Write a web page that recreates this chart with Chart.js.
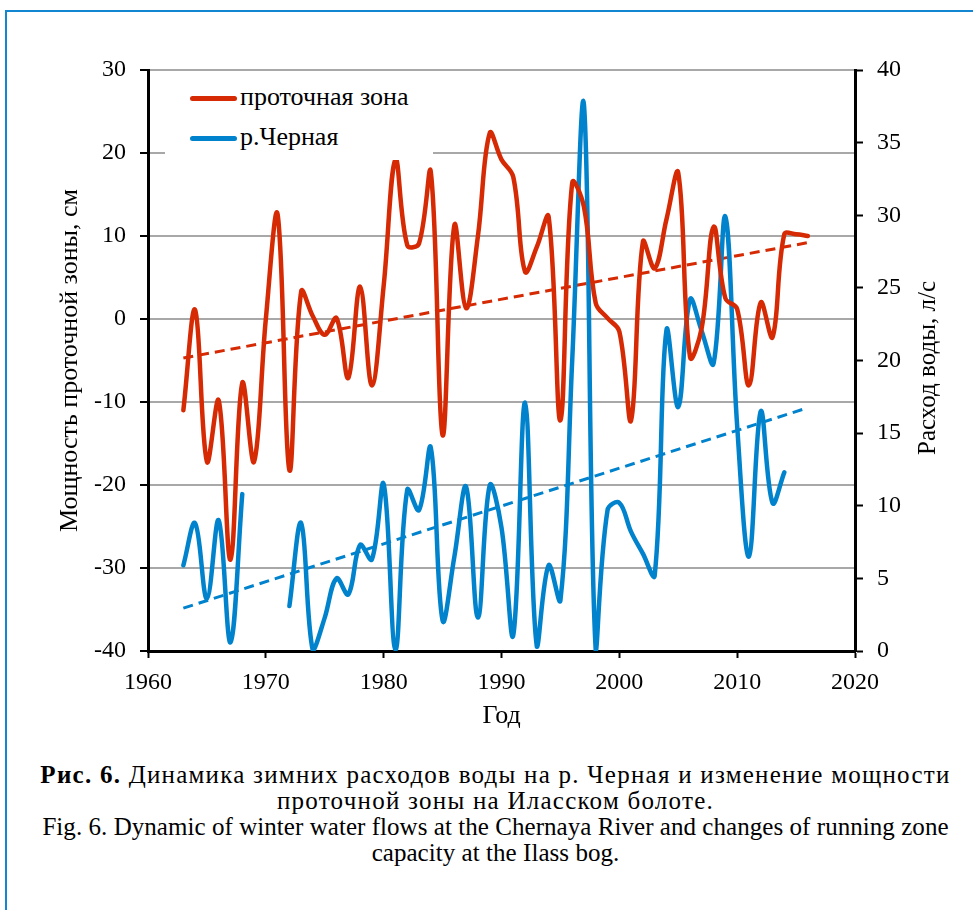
<!DOCTYPE html>
<html lang="ru">
<head>
<meta charset="utf-8">
<title>Рис. 6</title>
<script src="https://cdn.jsdelivr.net/npm/chart.js@4.4.1/dist/chart.umd.min.js"></script>
<style>
  html, body { margin: 0; padding: 0; background: #fff; }
  body { width: 973px; height: 910px; position: relative; overflow: hidden; font-family: "Liberation Serif", serif; }
  .frame { position: absolute; left: 5px; top: 10px; width: 1200px; height: 1200px; border-left: 2px solid #1286d0; border-top: 2px solid #1286d0; }
  #chart { position: absolute; left: 0; top: 0; }
  .legend { position: absolute; left: 165px; top: 78px; width: 268px; height: 82px; background: #fff; }
  .legend .item { position: absolute; left: 25px; height: 28px; font-size: 26px; line-height: 28px; white-space: nowrap; }
  .legend .swatch { position: absolute; left: 0; top: 13px; width: 47px; height: 4.5px; border-radius: 3px; }
  .legend .label { position: absolute; left: 50px; top: 0; }
  .ytitle-right { position: absolute; left: 927px; top: 368px; transform: translate(-50%, -50%) rotate(-90deg); font-size: 25px; white-space: nowrap; }
  .caption { position: absolute; left: 9px; top: 762px; width: 973px; text-align: center; font-size: 25px; line-height: 26px; color: #000; white-space: nowrap; }
  .caption .ru { letter-spacing: 1.25px; }
  .caption .en { letter-spacing: 0.05px; }
</style>
</head>
<body>
<div class="frame"></div>
<canvas id="chart" width="973" height="740"></canvas>
<div class="legend">
  <div class="item" style="top:5px"><span class="swatch" style="background:#d52a04"></span><span class="label">проточная зона</span></div>
  <div class="item" style="top:45px"><span class="swatch" style="background:#0083cc"></span><span class="label">р.Черная</span></div>
</div>
<div class="ytitle-right">Расход воды, л/с</div>
<div class="caption">
  <span class="ru"><b>Рис. 6.</b> Динамика зимних расходов воды на р. Черная и изменение мощности</span><br>
  <span class="ru">проточной зоны на Иласском болоте.</span><br>
  <span class="en">Fig. 6. Dynamic of winter water flows at the Chernaya River and changes of running zone</span><br>
  <span class="en">capacity at the Ilass bog.</span>
</div>
<script>
// ============ DATA ============
const years = [1963,1964,1965,1966,1967,1968,1969,1970,1971,1972,1973,1974,1975,1976,1977,1978,1979,1980,
  1981,1982,1983,1984,1985,1986,1987,1988,1989,1990,1991,1992,1993,1994,1995,1996,1997,1998,1999,2000,
  2001,2002,2003,2004,2005,2006,2007,2008,2009,2010,2011,2012,2013,2014,2015,2016];

// мощность проточной зоны, см (левая ось)
const zoneThickness = [-11,1.1,-17.2,-9.8,-29,-7.7,-17.2,0,12.6,-18.2,3.3,0.3,-1.9,0.1,-7.1,3.9,-8,4,
  19.2,8.9,9.1,17.7,-14,11.3,1.3,10,22.4,19.2,17.1,5.7,8.7,12.3,-12.2,16.4,13.5,1.9,0.1,-1.5,
  -12.2,9.3,6.1,12,17.6,-4.6,-1,11.1,2.5,1.2,-8,2,-2.2,10.2,10.2,10];

// расход воды р.Черная, л/с (правая ось); 1969-1971 нет данных
const riverFlow = [5.9,8.8,3.6,9.0,0.6,10.8,null,null,null,3.1,8.8,0,2.3,5.0,3.9,7.3,6.3,11.5,
  0.1,11.1,9.7,14.0,2.1,6.5,11.3,2.3,11.4,8.5,1.1,17.1,0.3,5.9,3.5,20,37.6,0,9.7,10.2,
  8.2,6.7,5.2,22.1,16.8,24.2,22,19.8,29.9,15.5,6.5,16.5,10.2,12.3,null,null];

// линейные тренды (концы линий)
const trendYears = [1963, 2016];
const zoneTrend = [-4.7, 9.2];
const flowTrend = [2.95, 16.75];

const xTicks = [1960,1970,1980,1990,2000,2010,2020];
const leftTicks = [-40,-30,-20,-10,0,10,20,30];
const rightTicks = [0,5,10,15,20,25,30,35,40];

// ============ CHART ============
const RED = '#d52a04', BLUE = '#0083cc';
const pts = (xs, ys) => xs.map((x, i) => ({ x, y: ys[i] }));
const tickFont = { family: 'Liberation Serif', size: 24 };
const titleFont = { family: 'Liberation Serif', size: 26 };

new Chart(document.getElementById('chart'), {
  type: 'line',
  data: {
    datasets: [
      { label: 'проточная зона', data: pts(years, zoneThickness), yAxisID: 'y',
        borderColor: RED, borderWidth: 4.5, tension: 0.38, pointRadius: 0,
        borderCapStyle: 'round', borderJoinStyle: 'round' },
      { label: 'р.Черная', data: pts(years, riverFlow), yAxisID: 'y1', spanGaps: false,
        borderColor: BLUE, borderWidth: 4.5, tension: 0.38, pointRadius: 0,
        borderCapStyle: 'round', borderJoinStyle: 'round' },
      { label: 'trend1', data: pts(trendYears, zoneTrend), yAxisID: 'y',
        borderColor: RED, borderWidth: 3, borderDash: [10, 6], pointRadius: 0 },
      { label: 'trend2', data: pts(trendYears, flowTrend), yAxisID: 'y1',
        borderColor: BLUE, borderWidth: 3, borderDash: [10, 6], pointRadius: 0 },
    ],
  },
  options: {
    responsive: false, animation: false, devicePixelRatio: 1,
    layout: { padding: { top: 70, left: 0, right: 0, bottom: 0 } },
    plugins: { legend: { display: false }, tooltip: { enabled: false } },
    scales: {
      x: {
        type: 'linear', min: 1960, max: 2020,
        afterBuildTicks: s => { s.ticks = xTicks.map(v => ({ value: v })); },
        afterFit: s => { s.height = 89; },
        grid: { drawOnChartArea: false, tickColor: '#000', tickWidth: 2, tickLength: 7 },
        border: { color: '#000', width: 3 },
        ticks: { color: '#000', font: tickFont, padding: 10, maxRotation: 0, callback: v => String(v) },
        title: { display: true, text: 'Год', color: '#000', font: titleFont, padding: { top: 0, bottom: 8 } },
      },
      y: {
        position: 'left', min: -40, max: 30,
        afterBuildTicks: s => { s.ticks = leftTicks.map(v => ({ value: v })); },
        afterFit: s => { s.width = 148; },
        grid: { color: '#a8a8a8', lineWidth: 2, tickColor: '#000', tickWidth: 2, tickLength: 8 },
        border: { color: '#000', width: 3 },
        ticks: { color: '#000', font: tickFont, padding: 14 },
        title: { display: true, text: 'Мощность проточной зоны, см', color: '#000', font: titleFont, padding: { top: 55, bottom: 0 } },
      },
      y1: {
        position: 'right', min: 0, max: 40,
        afterBuildTicks: s => { s.ticks = rightTicks.map(v => ({ value: v })); },
        afterFit: s => { s.width = 118; },
        grid: { drawOnChartArea: false, tickColor: '#000', tickWidth: 2, tickLength: 8 },
        border: { color: '#000', width: 3 },
        ticks: { color: '#000', font: tickFont, padding: 14 },
      },
    },
  },
});
</script>
</body>
</html>
